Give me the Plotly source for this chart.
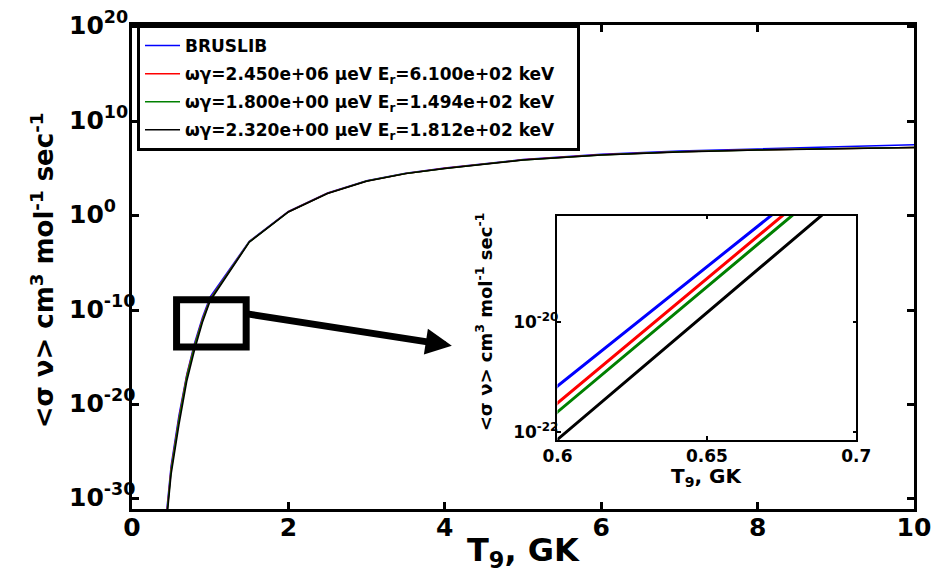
import numpy as np
import plotly.graph_objects as go

# Temperature grid, T9 in GK
t9 = [0.4, 0.5, 0.6, 0.7, 0.8, 0.9, 1.0, 1.5, 2.0, 2.5, 3.0, 3.5, 4.0, 5.0, 6.0, 7.0, 8.0, 9.0, 10.0]

# log10 of <sigma v> (cm^3 mol^-1 s^-1) for each rate set
log_rate_bruslib = [-35.0, -26.5, -21.17, -16.83, -13.5, -10.8, -8.6, -2.70, 0.45, 2.40, 3.70, 4.50, 5.05, 5.95, 6.50, 6.85, 7.08, 7.32, 7.51]
log_rate_res1 = [-35.4, -26.8, -21.48, -16.95, -13.7, -11.0, -8.8, -2.75, 0.42, 2.38, 3.68, 4.48, 5.02, 5.92, 6.45, 6.78, 6.98, 7.12, 7.23]
log_rate_res2 = [-35.6, -27.0, -21.64, -17.09, -13.8, -11.1, -8.85, -2.77, 0.41, 2.37, 3.67, 4.47, 5.01, 5.91, 6.44, 6.77, 6.97, 7.11, 7.23]
log_rate_res3 = [-36.0, -27.4, -22.14, -17.53, -14.2, -11.3, -9.0, -2.80, 0.40, 2.36, 3.66, 4.46, 5.00, 5.90, 6.43, 6.76, 6.96, 7.10, 7.22]

# Legend labels (trailing no-break spaces pad the legend box on the right)
PAD = "\u00a0\u00a0\u00a0"
series_names = [
    "BRUSLIB",
    "ωγ=2.450e+06 μeV E<sub>r</sub>=6.100e+02 keV" + PAD,
    "ωγ=1.800e+00 μeV E<sub>r</sub>=1.494e+02 keV" + PAD,
    "ωγ=2.320e+00 μeV E<sub>r</sub>=1.812e+02 keV" + PAD,
]
series_colors = ["#0000ff", "#ff0000", "#008000", "#000000"]
series_logs = [log_rate_bruslib, log_rate_res1, log_rate_res2, log_rate_res3]

main_yticks = [-30, -20, -10, 0, 10, 20]
main_xticks = [0, 2, 4, 6, 8, 10]
inset_yticks = [-22, -20]
inset_xticks = [0.6, 0.65, 0.7]

FONT = "DejaVu Sans, Arial, sans-serif"

fig = go.Figure()

for i, (name, color, logs) in enumerate(zip(series_names, series_colors, series_logs)):
    rate = 10.0 ** np.array(logs)
    fig.add_trace(go.Scatter(
        x=t9, y=rate, mode="lines", name=name, legendgroup="g%d" % i,
        line=dict(color=color, width=1.5),
        xaxis="x", yaxis="y",
    ))

for i, (name, color, logs) in enumerate(zip(series_names, series_colors, series_logs)):
    rate = 10.0 ** np.array(logs)
    fig.add_trace(go.Scatter(
        x=t9, y=rate, mode="lines", name=name, showlegend=False, legendgroup="g%d" % i,
        line=dict(color=color, width=3),
        xaxis="x2", yaxis="y2",
    ))

tick_font = dict(family=FONT, size=25, color="black", weight="bold")
inset_tick_font = dict(family=FONT, size=17, color="black", weight="bold")

fig.update_layout(
    width=933, height=581, autosize=False,
    margin=dict(l=132, r=2, t=25, b=72),
    paper_bgcolor="white", plot_bgcolor="white",
    font=dict(family=FONT, color="black"),
    xaxis=dict(
        domain=[0, 1], range=[0, 10],
        tickvals=main_xticks, ticktext=[str(v) for v in main_xticks],
        ticks="inside", ticklen=7, tickwidth=3, tickcolor="black",
        showline=True, linewidth=3, linecolor="black", mirror="ticks",
        showgrid=False, zeroline=False, tickfont=tick_font, ticklabelstandoff=-6,
        ticklabeloverflow="allow",
    ),
    yaxis=dict(
        domain=[0, 1], type="log", range=[-31.06, 20.2],
        tickvals=[10.0 ** v for v in main_yticks], showticklabels=False,
        ticks="inside", ticklen=7, tickwidth=3, tickcolor="black",
        showline=True, linewidth=3, linecolor="black", mirror="ticks",
        showgrid=False, zeroline=False,
    ),
    xaxis2=dict(
        domain=[0.5441, 0.9262], range=[0.6, 0.7], anchor="y2",
        tickvals=inset_xticks, ticktext=["0.6", "0.65", "0.7"],
        ticks="inside", ticklen=4, tickwidth=1.5, tickcolor="black",
        showline=True, linewidth=1.5, linecolor="black", mirror="ticks",
        showgrid=False, zeroline=False, tickfont=inset_tick_font,
    ),
    yaxis2=dict(
        domain=[0.1426, 0.606], type="log", range=[-22.15, -18.07], anchor="x2",
        tickvals=[10.0 ** v for v in inset_yticks],
        ticktext=["10<sup>%d</sup>" % v for v in inset_yticks],
        ticks="inside", ticklen=4, tickwidth=1.5, tickcolor="black",
        showline=True, linewidth=1.5, linecolor="black", mirror="ticks",
        showgrid=False, zeroline=False, tickfont=inset_tick_font, ticklabelstandoff=-6,
    ),
    legend=dict(
        x=0.0064, y=1.0, xanchor="left", yanchor="top",
        bgcolor="white", bordercolor="black", borderwidth=3,
        font=dict(family=FONT, size=17, color="black", weight="bold"),
        tracegroupgap=3, itemwidth=35,
    ),
    showlegend=True,
)

# Main y tick labels, left-aligned in a column beside the axis
for v in main_yticks:
    fig.add_annotation(xref="paper", yref="y", x=-0.0827, y=v,
                       xanchor="left", yanchor="middle", yshift=3,
                       text="10<sup>%d</sup>" % v, showarrow=False,
                       font=tick_font)

# Highlight box around the region enlarged in the inset, plus the pointer arrow
fig.add_shape(type="rect", xref="x", yref="y", x0=0.57, x1=1.46, y0=10.0 ** -13.9, y1=10.0 ** -8.9,
              line=dict(color="black", width=7), fillcolor="rgba(0,0,0,0)")
fig.add_annotation(xref="x", yref="y", x=4.09, y=-13.76, text="",
                   showarrow=True, axref="pixel", ayref="pixel", ax=-206, ay=-32,
                   arrowhead=2, arrowsize=0.75, arrowwidth=7, arrowcolor="black")

# Axis titles
fig.add_annotation(xref="paper", yref="paper", x=0.5, y=-0.088, xanchor="center", yanchor="middle",
                   text="T<sub>9</sub>, GK", showarrow=False,
                   font=dict(family=FONT, size=32, color="black", weight="bold"))
fig.add_annotation(xref="paper", yref="paper", x=-0.1145, y=0.494, xanchor="center", yanchor="middle",
                   text="<σ ν> cm<sup>3</sup> mol<sup>-1</sup> sec<sup>-1</sup>", textangle=-90,
                   showarrow=False, font=dict(family=FONT, size=26, color="black", weight="bold"))
fig.add_annotation(xref="paper", yref="paper", x=0.7341, y=(509 - 477) / 484,
                   xanchor="center", yanchor="middle",
                   text="T<sub>9</sub>, GK", showarrow=False,
                   font=dict(family=FONT, size=20, color="black", weight="bold"))
fig.add_annotation(xref="paper", yref="paper", x=0.4504, y=(509 - 322) / 484,
                   xanchor="center", yanchor="middle",
                   text="<σ ν> cm<sup>3</sup> mol<sup>-1</sup> sec<sup>-1</sup>", textangle=-90,
                   showarrow=False, font=dict(family=FONT, size=18, color="black", weight="bold"))

fig.write_html("out.html")
